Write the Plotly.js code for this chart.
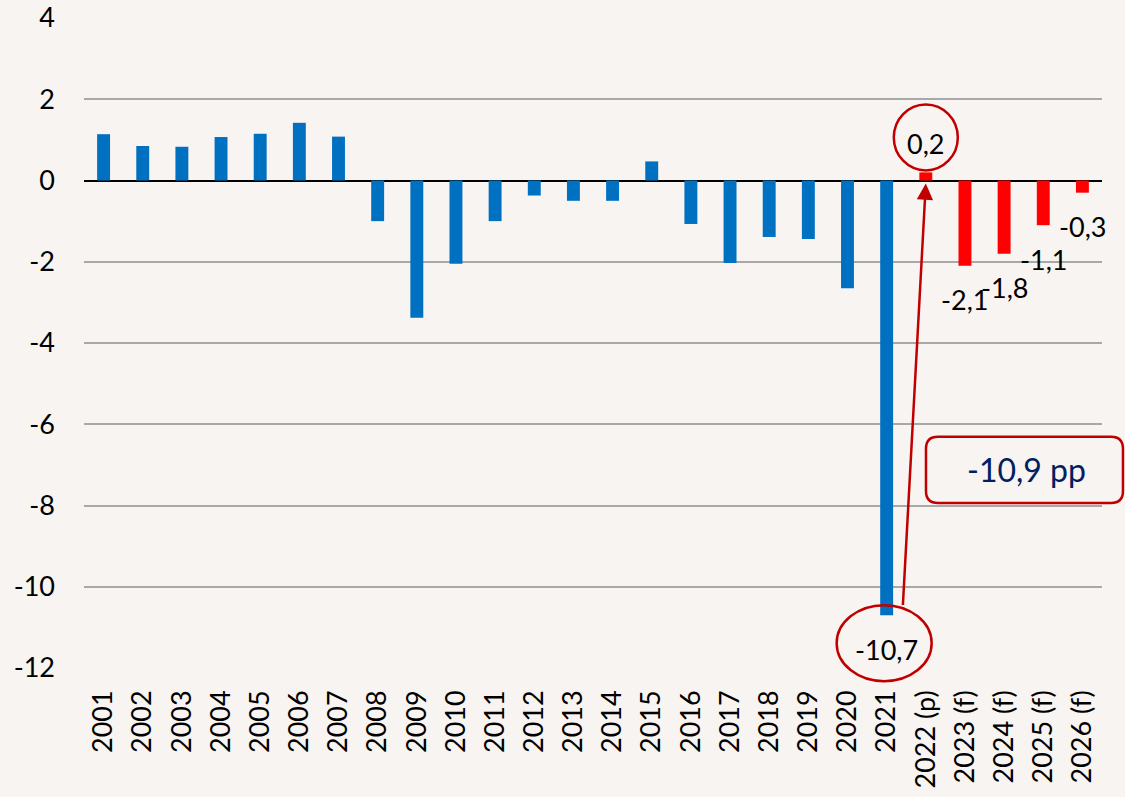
<!DOCTYPE html>
<html>
<head>
<meta charset="utf-8">
<script src="https://cdn.plot.ly/plotly-3.0.1.min.js"></script>
<style>
  html, body { margin: 0; padding: 0; background: #f7f4f1; }
  #chart { width: 1125px; height: 797px; }
</style>
</head>
<body>
<div id="chart"></div>
<script>
// ---- data ----
const years = ["2001","2002","2003","2004","2005","2006","2007","2008","2009","2010",
  "2011","2012","2013","2014","2015","2016","2017","2018","2019","2020","2021",
  "2022 (p)","2023 (f)","2024 (f)","2025 (f)","2026 (f)"];
const values = [1.14, 0.85, 0.83, 1.07, 1.15, 1.42, 1.08, -1.0, -3.38, -2.05,
  -1.0, -0.37, -0.5, -0.5, 0.47, -1.07, -2.03, -1.39, -1.44, -2.65, -10.7,
  0.2, -2.1, -1.8, -1.1, -0.3];
const labelledYears = ["2021","2022 (p)","2023 (f)","2024 (f)","2025 (f)","2026 (f)"];
const yTicks = [4, 2, 0, -2, -4, -6, -8, -10, -12];
const changeText = "-10,9 pp";

// ---- styling ----
const BLUE = "#0070c0", RED = "#ff0000", DARKRED = "#c00000";
const FONT = "Lato, 'Open Sans', sans-serif";
const Y_MIN = -12, Y_MAX = 4;
const colors = years.map(y => y.indexOf("(") >= 0 ? RED : BLUE);
const fmt = v => v.toFixed(1).replace(".", ",");
const idx = y => years.indexOf(y);
const valueOf = y => values[idx(y)];
// paper fractions of a category / value (axis ranges fixed below)
const px = y => (idx(y) + 0.5) / years.length;
const py = v => (v - Y_MIN) / (Y_MAX - Y_MIN);

const annotations = labelledYears.map(y => {
  const v = valueOf(y);
  return {
    x: idx(y), y: v, xref: "x", yref: "y", showarrow: false,
    text: fmt(v), font: {family: FONT, size: 27, color: "#000"},
    yshift: v >= 0 ? 29 : -34, yanchor: "middle", xanchor: "center"
  };
});
// arrow from 2021 bar end to 2022 bar
annotations.push({
  x: idx("2022 (p)"), y: 0, xref: "x", yref: "y",
  ax: -23, ay: 423, axref: "pixel", ayref: "pixel",
  yshift: -3, showarrow: true, arrowhead: 2, arrowsize: 1.3, arrowwidth: 2.5,
  arrowcolor: DARKRED, text: ""
});
// change box text
annotations.push({
  x: 0.9263, y: 0.3049, xref: "paper", yref: "paper", showarrow: false,
  text: changeText, font: {family: FONT, size: 32, color: "#002060"},
  xanchor: "center", yanchor: "middle"
});

// rounded box path in paper coordinates
function roundedRect(x0, x1, y0, y1, rx, ry) {
  return `M ${x0+rx},${y1} L ${x1-rx},${y1} Q ${x1},${y1} ${x1},${y1-ry} ` +
         `L ${x1},${y0+ry} Q ${x1},${y0} ${x1-rx},${y0} L ${x0+rx},${y0} ` +
         `Q ${x0},${y0} ${x0},${y0+ry} L ${x0},${y1-ry} Q ${x0},${y1} ${x0+rx},${y1} Z`;
}

const shapes = [
  { // circle around 0,2
    type: "circle", xref: "paper", yref: "paper", xsizemode: "pixel", ysizemode: "pixel",
    xanchor: px("2022 (p)"), yanchor: py(valueOf("2022 (p)")),
    x0: -32, x1: 32, y0: 2, y1: 68,
    line: {color: DARKRED, width: 2.5}
  },
  { // ellipse around -10,7
    type: "circle", xref: "paper", yref: "paper", xsizemode: "pixel", ysizemode: "pixel",
    xanchor: px("2021"), yanchor: py(valueOf("2021")),
    x0: -50, x1: 45, y0: -66, y1: 10,
    line: {color: DARKRED, width: 2.5}
  },
  {
    type: "path", xref: "paper", yref: "paper",
    path: roundedRect(0.8271, 1.0206, 0.2540, 0.3557, 0.0118, 0.0185),
    line: {color: DARKRED, width: 2.5}
  }
];

const trace = {
  type: "bar", x: years, y: values,
  marker: {color: colors, line: {width: 0}},
  hoverinfo: "x+y", cliponaxis: false
};

const layout = {
  width: 1125, height: 797,
  margin: {l: 84, r: 23, t: 18, b: 129},
  paper_bgcolor: "#f7f4f1", plot_bgcolor: "#f7f4f1",
  bargap: 0.67,
  showlegend: false,
  font: {family: FONT, size: 27, color: "#000"},
  xaxis: {
    type: "category", range: [-0.5, years.length - 0.5], autorange: false,
    tickangle: -90, showgrid: false, zeroline: false,
    showline: false, ticks: "", ticklabelstandoff: 16,
    tickfont: {family: FONT, size: 27, color: "#000"}
  },
  yaxis: {
    range: [Y_MIN, Y_MAX], autorange: false, tickvals: yTicks, ticktext: yTicks.map(String),
    showgrid: true, gridcolor: "#a8a8a8", gridwidth: 2,
    zeroline: true, zerolinecolor: "#000", zerolinewidth: 2,
    showline: false, ticks: "", ticklabelstandoff: 28,
    tickfont: {family: FONT, size: 27, color: "#000"}
  },
  annotations: annotations,
  shapes: shapes
};

Plotly.newPlot("chart", [trace], layout, {displayModeBar: false, staticPlot: true});
</script>
</body>
</html>
